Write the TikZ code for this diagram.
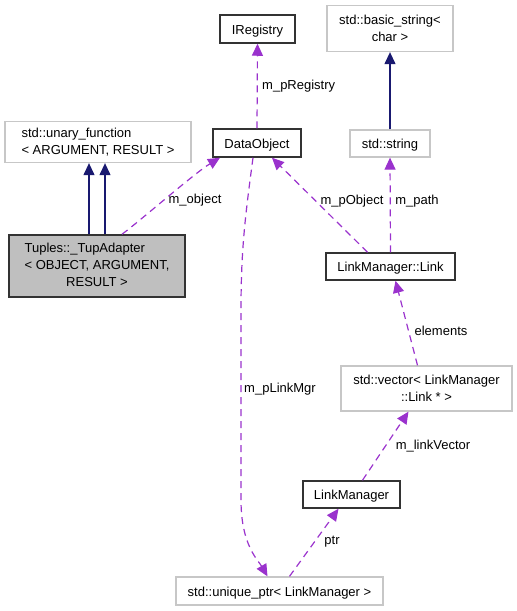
\documentclass[tikz,border=0pt]{standalone}
\usepackage{fontspec}
\setmainfont{Liberation Sans}
\usepackage{tikz}
\usetikzlibrary{arrows.meta,positioning}
\definecolor{edgenavy}{HTML}{191970}
\definecolor{edgepurple}{HTML}{9A32CD}
\definecolor{boxgray}{HTML}{BFBFBF}
\tikzset{
    >={Triangle[length=12pt,width=11pt]},
    font={\fontsize{13pt}{17pt}\selectfont},
    classbox/.style={
        rectangle,
        draw=black!80, line width=1.5pt,
        inner sep=2pt,
        align=center
    },
    extbox/.style={
        rectangle,
        draw=black!22, line width=1.3pt,
        inner sep=2pt,
        align=center
    },
    oneline/.style={text height=12pt, text depth=2pt},
    inherit/.style={draw=edgenavy, line width=1.2pt, ->},
    member/.style={draw=edgepurple, line width=1.2pt, dash pattern=on 7pt off 5pt, ->},
    lbl/.style={inner sep=1pt},
}

\begin{document}
\begin{tikzpicture}[x=1pt,y=-1pt]
    \useasboundingbox (0,0) rectangle (517,611);

    % classes
    \node[classbox, oneline, minimum width=75pt, minimum height=28pt] (iregistry) at (257.5,29) {IRegistry};
    \node[extbox, minimum width=126pt, minimum height=46pt] (basicstr) at (390,28.5) {std::basic\_string<\\char >};
    \node[extbox, minimum width=186pt, minimum height=41pt, align=left] (unary) at (98,142) {std::unary\_function\\< ARGUMENT, RESULT >};
    \node[classbox, oneline, minimum width=88pt, minimum height=28pt] (dataobj) at (257,143) {DataObject};
    \node[extbox, oneline, minimum width=80pt, minimum height=27pt] (string) at (390,143.5) {std::string};
    \node[classbox, fill=boxgray, minimum width=176pt, minimum height=62pt] (tup) at (97,266)
        {\begin{tabular}{@{}l@{}}Tuples::\_TupAdapter\\< OBJECT, ARGUMENT,\\\multicolumn{1}{@{}c@{}}{RESULT >}\end{tabular}};
    \node[classbox, oneline, minimum width=129pt, minimum height=27pt] (link) at (390.5,266.5) {LinkManager::Link};
    \node[extbox, minimum width=171pt, minimum height=45pt] (vector) at (426.5,388.5) {std::vector< LinkManager\\::Link * >};
    \node[classbox, oneline, minimum width=97pt, minimum height=27pt] (linkmgr) at (351.5,494.5) {LinkManager};
    \node[extbox, oneline, minimum width=207pt, minimum height=28pt] (uniqueptr) at (279.5,591) {std::unique\_ptr< LinkManager >};

    % inheritance
    \draw[inherit] ([xshift=-8pt]tup.north) -- ([xshift=-9pt]unary.south);
    \draw[inherit] ([xshift=8pt]tup.north) -- ([xshift=7pt]unary.south);
    \draw[inherit] (string.north) -- (basicstr.south);

    % members
    \draw[member] ([xshift=25pt]tup.north) .. controls +(20,-15) and +(-25,15) .. ([xshift=-37pt]dataobj.south);
    \draw[member] (dataobj.north) -- (iregistry.south);
    \draw[member] ([xshift=-23pt]link.north) -- ([xshift=15pt]dataobj.south);
    \draw[member] (link.north) -- (string.south);
    \draw[member] ([xshift=-9pt]vector.north) -- ([xshift=5pt]link.south);
    \draw[member] ([xshift=11pt]linkmgr.north) -- ([xshift=-18pt]vector.south);
    \draw[member] ([xshift=10pt]uniqueptr.north) -- ([xshift=-13pt]linkmgr.south);
    \draw[member] ([xshift=-4pt]dataobj.south) .. controls +(-8,60) and (241,250) .. (241,310)
        -- (241,500) .. controls (241,545) and (258,560) .. ([xshift=-12pt]uniqueptr.north);

    % labels
    \node[lbl, anchor=west] (lregistry) at (261,86) {m\_pRegistry};
    \node[lbl] (lobject) at (195,200) {m\_object};
    \node[lbl] (lpobject) at (352,201) {m\_pObject};
    \node[lbl] (lpath) at (417,201) {m\_path};
    \node[lbl] (lelements) at (441,331) {elements};
    \node[lbl] (llinkmgr) at (280,389) {m\_pLinkMgr};
    \node[lbl] (llinkvec) at (433,446) {m\_linkVector};
    \node[lbl] (lptr) at (332,542) {ptr};
\end{tikzpicture}
\end{document}
